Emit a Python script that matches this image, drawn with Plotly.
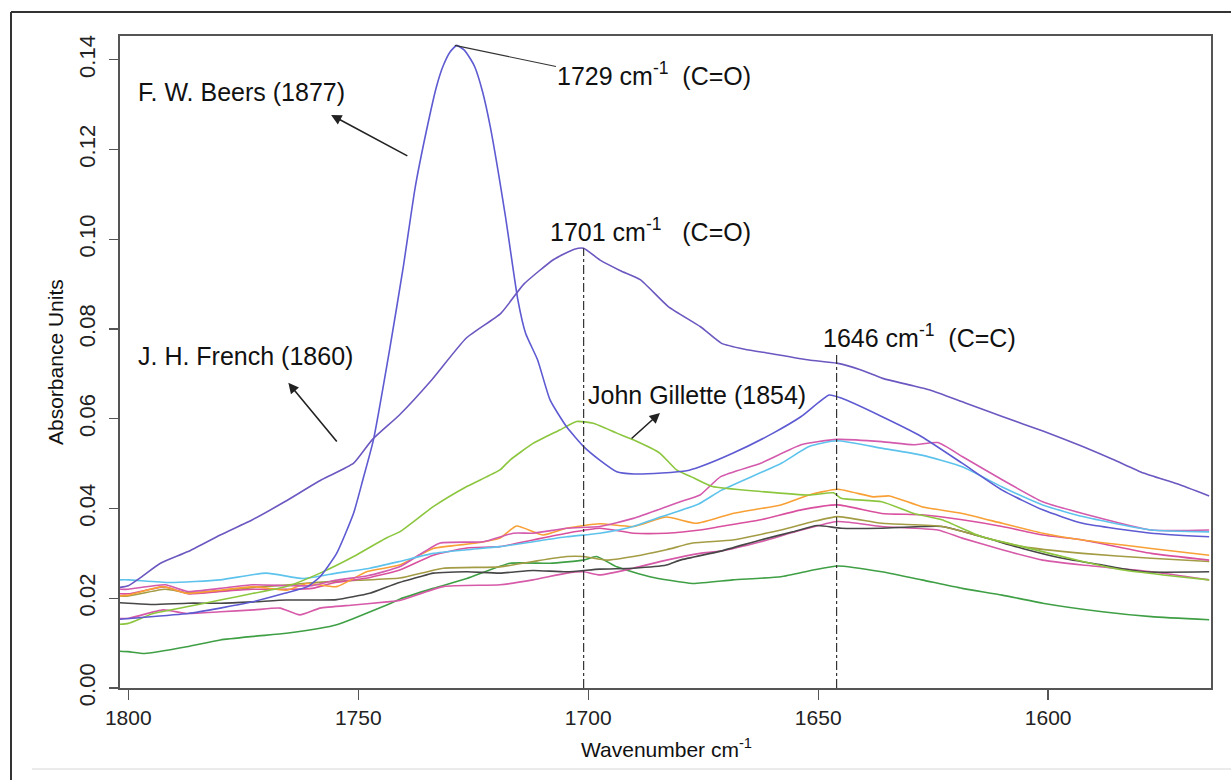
import plotly.graph_objects as go

# ---------------- data ----------------
wn_french = [1802, 1800, 1797.5, 1793, 1787, 1780, 1773, 1766, 1758, 1751, 1747, 1741, 1734, 1726.5, 1719,
             1714, 1707.5, 1703, 1701, 1697.5, 1693, 1688.7, 1682.6, 1675.6, 1671, 1666, 1660.7, 1652, 1646,
             1641, 1636, 1630, 1625.7, 1618, 1610, 1601, 1592.5, 1586, 1579.3, 1572, 1565]
abs_french = [0.0224, 0.0228, 0.0245, 0.0278, 0.0304, 0.0341, 0.0375, 0.0415, 0.0464, 0.0501, 0.0553, 0.0609,
              0.0687, 0.078, 0.0835, 0.090, 0.0955, 0.0978, 0.098, 0.0954, 0.093, 0.091, 0.085, 0.0805, 0.0768,
              0.0755, 0.0746, 0.0731, 0.0724, 0.071, 0.069, 0.0675, 0.0664, 0.0635, 0.0605, 0.0572, 0.0538,
              0.051, 0.0479, 0.0455, 0.0428]

wn_beers = [1802, 1800, 1787, 1780, 1773, 1766, 1761, 1758.3, 1754.7, 1751, 1749, 1746.7, 1743.2, 1740.2,
            1737.6, 1734.2, 1733, 1731.6, 1730, 1728.6, 1727, 1725.5, 1724.7, 1723, 1721.3, 1718, 1715.3,
            1713.6, 1711, 1708.3, 1704.7, 1701, 1697.5, 1693.8, 1690, 1684, 1678.6, 1675.7, 1668.6, 1659.8,
            1653.7, 1647.6, 1645, 1636.2, 1627.5, 1618.7, 1610, 1601.2, 1592.5, 1577.6, 1565]
abs_beers = [0.0153, 0.0155, 0.0166, 0.0178, 0.0192, 0.0211, 0.0226, 0.0248, 0.030, 0.039, 0.0464, 0.0553,
             0.0753, 0.0939, 0.1117, 0.1288, 0.134, 0.1385, 0.1418, 0.1432, 0.1422, 0.140, 0.1385, 0.133,
             0.1251, 0.1051, 0.0865, 0.079, 0.0731, 0.0642, 0.0582, 0.0538, 0.0508, 0.0482, 0.0477, 0.0479,
             0.0484, 0.0493, 0.0523, 0.0568, 0.0605, 0.0653, 0.0646, 0.0605, 0.056, 0.0501, 0.0441, 0.0397,
             0.0367, 0.0345, 0.0337]

wn_gillette = [1802, 1800, 1794.6, 1787.3, 1780, 1772.8, 1765.6, 1758.3, 1751, 1743.8, 1741, 1733.7, 1726.4,
               1719.2, 1717, 1712, 1706.2, 1702.5, 1698.9, 1693.8, 1690.2, 1684.4, 1680.8, 1677, 1673, 1662.5,
               1652, 1646.7, 1645, 1636.2, 1629.2, 1623.1, 1614.4, 1605.6, 1592.5, 1583.7, 1575, 1565]
abs_gillette = [0.0142, 0.0144, 0.0166, 0.0181, 0.0196, 0.0211, 0.0226, 0.0256, 0.0293, 0.0335, 0.0348, 0.0404,
                0.0449, 0.0486, 0.0508, 0.0545, 0.0575, 0.0594, 0.059, 0.0568, 0.0553, 0.0523, 0.0486, 0.0468,
                0.0449, 0.0438, 0.043, 0.0435, 0.0423, 0.0415, 0.0389, 0.0375, 0.0337, 0.0315, 0.0282, 0.0263,
                0.0252, 0.0241]

wn_cyan = [1802, 1800, 1791, 1780, 1770, 1762, 1754.7, 1747.5, 1741, 1733.7, 1726.4, 1719.2, 1712, 1704.7,
           1697.5, 1690.2, 1684, 1676, 1671, 1658, 1652, 1646, 1636, 1627.5, 1618.7, 1610, 1601.2, 1592.5,
           1577.6, 1565]
abs_cyan = [0.0241, 0.0241, 0.0235, 0.0241, 0.0256, 0.0244, 0.0256, 0.0267, 0.0282, 0.030, 0.0308, 0.0315,
            0.0326, 0.0337, 0.0345, 0.036, 0.0382, 0.041, 0.0441, 0.0501, 0.0538, 0.0551, 0.0534, 0.0519, 0.0493,
            0.0448, 0.0408, 0.0382, 0.0352, 0.0348]

wn_pink_a = [1802, 1800, 1792, 1787, 1780, 1773, 1765, 1760, 1755, 1748, 1741, 1737.3, 1732.2, 1722.8, 1716.3,
             1712, 1704.7, 1697.5, 1690.2, 1683, 1680, 1675.7, 1671.2, 1662.5, 1653.7, 1646, 1636.2, 1629.2,
             1624, 1618.7, 1610, 1601.2, 1592.5, 1577.6, 1565]
abs_pink_a = [0.022, 0.022, 0.023, 0.0215, 0.0222, 0.023, 0.0228, 0.0228, 0.024, 0.025, 0.027, 0.0293, 0.0323,
              0.0326, 0.0345, 0.0345, 0.0356, 0.036, 0.0378, 0.0404, 0.0415, 0.043, 0.0471, 0.0501, 0.0542,
              0.0554, 0.0549, 0.0542, 0.0547, 0.0516, 0.0464, 0.0415, 0.0389, 0.0352, 0.0352]

wn_orange = [1802, 1800, 1792.4, 1787.3, 1780, 1772.8, 1765.6, 1761.2, 1754.7, 1748.2, 1741, 1733.7, 1724.3,
             1719.2, 1715.6, 1709.8, 1704.7, 1697.5, 1690.2, 1683, 1676.4, 1668.6, 1658.1, 1652, 1645.8, 1638,
             1634.5, 1627.5, 1618.7, 1610, 1601.2, 1592.5, 1577.6, 1565]
abs_orange = [0.0205, 0.0207, 0.0226, 0.0211, 0.0218, 0.0226, 0.0218, 0.0233, 0.0226, 0.0259, 0.0274, 0.0311,
              0.0323, 0.0334, 0.0361, 0.0341, 0.0356, 0.0366, 0.036, 0.0381, 0.0367, 0.0389, 0.0408, 0.043,
              0.0443, 0.0426, 0.0428, 0.0404, 0.0389, 0.0367, 0.0345, 0.033, 0.0311, 0.0296]

wn_pink_b = [1802, 1800, 1792, 1787, 1780, 1773, 1765, 1760, 1755, 1748, 1741, 1733.7, 1726.4, 1719.2, 1712,
             1704.7, 1697.5, 1690.2, 1683, 1675.7, 1671.2, 1662.5, 1653.7, 1645.8, 1636.2, 1627.5, 1618.7, 1610,
             1601.2, 1592.5, 1577.6, 1565]
abs_pink_b = [0.021, 0.021, 0.0225, 0.021, 0.0215, 0.022, 0.022, 0.0222, 0.0235, 0.0245, 0.0263, 0.0296,
              0.0312, 0.0315, 0.033, 0.0345, 0.0356, 0.0345, 0.0345, 0.0352, 0.036, 0.0375, 0.0397, 0.0408,
              0.0389, 0.0386, 0.0375, 0.036, 0.0341, 0.033, 0.030, 0.0285]

wn_olive = [1802, 1800, 1792, 1787, 1780, 1772, 1765, 1758, 1750, 1741, 1731.5, 1719.2, 1712, 1704.7, 1701, 1696,
            1690.2, 1683, 1677.3, 1668.6, 1658.1, 1651.1, 1645.8, 1636.2, 1623.1, 1614.4, 1605.6, 1592.5,
            1577.6, 1565]
abs_olive = [0.0205, 0.0205, 0.022, 0.0212, 0.0216, 0.0225, 0.023, 0.0236, 0.024, 0.0245, 0.0267, 0.027,
             0.0282, 0.0293, 0.0293, 0.0285, 0.0293, 0.0308, 0.0323, 0.033, 0.0352, 0.0371, 0.0382, 0.0367,
             0.036, 0.0337, 0.0315, 0.030, 0.0289, 0.0282]

wn_black = [1802, 1800, 1794.6, 1787, 1780, 1772.8, 1765.6, 1758.3, 1754.7, 1747.5, 1741.7, 1736.6, 1733.7,
            1726.4, 1719.2, 1712, 1704.7, 1697.5, 1690.2, 1683, 1680, 1671.2, 1662.5, 1655.5, 1650.2, 1645,
            1636.2, 1623.1, 1614.4, 1605.6, 1596.9, 1588.2, 1579.3, 1565]
abs_black = [0.019, 0.0189, 0.0186, 0.0189, 0.0189, 0.0192, 0.0196, 0.0196, 0.0197, 0.0211, 0.0233, 0.0248,
             0.0256, 0.0259, 0.0256, 0.0262, 0.0259, 0.0265, 0.0267, 0.0274, 0.0285, 0.0305, 0.033, 0.0348,
             0.0362, 0.0356, 0.0356, 0.036, 0.0337, 0.0311, 0.0289, 0.0274, 0.0259, 0.0259]

wn_pink_c = [1802, 1800, 1792.4, 1787.3, 1780, 1772.8, 1767, 1762.7, 1758.3, 1751, 1743.8, 1741, 1731.5, 1719.2,
             1712, 1704.7, 1701, 1697.5, 1690.2, 1683, 1675.7, 1671.2, 1662.5, 1653.7, 1645.8, 1636.2, 1624,
             1618.7, 1610, 1601.2, 1592.5, 1577.6, 1565]
abs_pink_c = [0.0155, 0.0155, 0.0174, 0.0166, 0.017, 0.0174, 0.0178, 0.0163, 0.0178, 0.0185, 0.0192, 0.0195,
              0.0226, 0.023, 0.0241, 0.0256, 0.0259, 0.0252, 0.0267, 0.0285, 0.030, 0.0305, 0.0326, 0.0352,
              0.0371, 0.036, 0.0352, 0.0334, 0.0308, 0.0285, 0.0274, 0.0259, 0.0241]

wn_dkgreen = [1802, 1800, 1796.4, 1787.3, 1780, 1772.8, 1765.6, 1758.3, 1754.7, 1751, 1743.8, 1741, 1733.7,
              1726.4, 1717, 1708.3, 1701.1, 1698.2, 1693.8, 1686.6, 1677.3, 1668.6, 1658.1, 1651.1, 1645.8,
              1636.2, 1627.5, 1618.7, 1610, 1601.2, 1588.2, 1577.6, 1565]
abs_dkgreen = [0.0082, 0.0081, 0.0077, 0.0092, 0.0107, 0.0115, 0.0122, 0.0133, 0.0141, 0.0155, 0.0185, 0.0198,
               0.0222, 0.0244, 0.0278, 0.0278, 0.0285, 0.0293, 0.027, 0.0248, 0.0233, 0.0241, 0.0248, 0.0263,
               0.0272, 0.0259, 0.0241, 0.0222, 0.0207, 0.0189, 0.017, 0.0159, 0.0152]

x_ticks = [1800, 1750, 1700, 1650, 1600]
y_ticks = [0.00, 0.02, 0.04, 0.06, 0.08, 0.10, 0.12, 0.14]
y_tick_text = ["0.00", "0.02", "0.04", "0.06", "0.08", "0.10", "0.12", "0.14"]

peak_1729 = (1729, 0.1432)
peak_1701 = (1701, 0.098)
peak_1646 = (1646, 0.0742)

# ---------------- figure ----------------
W, H = 1231, 780
ML, MR, MT, MB = 120, 20, 36, 92
PW, PH = W - ML - MR, H - MT - MB


def px(x):
    return (x - ML) / PW


def py(y):
    return (H - MB - y) / PH


FONT = "Liberation Sans, Arial, sans-serif"

series = [
    (wn_dkgreen, abs_dkgreen, "#3f9f45"),
    (wn_pink_c, abs_pink_c, "#d65aa8"),
    (wn_black, abs_black, "#474747"),
    (wn_olive, abs_olive, "#a39c45"),
    (wn_pink_b, abs_pink_b, "#d9509f"),
    (wn_orange, abs_orange, "#f8a035"),
    (wn_pink_a, abs_pink_a, "#d35aac"),
    (wn_cyan, abs_cyan, "#5ec3ec"),
    (wn_gillette, abs_gillette, "#8cc63f"),
    (wn_beers, abs_beers, "#5d5ad2"),
    (wn_french, abs_french, "#6c58c0"),
]

fig = go.Figure()
for xs, ys, col in series:
    fig.add_trace(go.Scatter(x=xs, y=ys, mode="lines",
                             line=dict(color=col, width=1.6, shape="spline", smoothing=0.5),
                             showlegend=False, hoverinfo="skip"))

axis_common = dict(showline=True, linecolor="#555555", linewidth=1.6, mirror=True, showgrid=False,
                   zeroline=False, ticks="outside", tickcolor="#555555", tickwidth=1.4)

fig.update_xaxes(range=[1801.8, 1564.6], tickvals=x_ticks, ticklen=10,
                 tickfont=dict(family=FONT, size=21, color="#222222"), **axis_common)
fig.update_yaxes(range=[0, 0.1453], tickvals=y_ticks, ticktext=y_tick_text, ticklen=9,
                 tickangle=-90, ticklabelstandoff=6,
                 tickfont=dict(family=FONT, size=22, color="#222222"), **axis_common)

shapes = []
# vertical dash-dot marker lines
for (xw, yv) in (peak_1701, peak_1646):
    shapes.append(dict(type="line", xref="x", yref="y", x0=xw, x1=xw, y0=0, y1=yv,
                       line=dict(color="#333333", width=1.2, dash="dashdot")))
# leader line from 1729 peak to its label
shapes.append(dict(type="line", xref="x", yref="y", x0=peak_1729[0], y0=peak_1729[1],
                   x1=1707.0, y1=0.1385, line=dict(color="#333333", width=1.2)))
# outer frame (left and top)
shapes.append(dict(type="line", xref="paper", yref="paper", x0=px(11), x1=px(11), y0=py(12), y1=py(780),
                   line=dict(color="#333333", width=2)))
shapes.append(dict(type="line", xref="paper", yref="paper", x0=px(11), x1=px(1231), y0=py(12), y1=py(12),
                   line=dict(color="#333333", width=2)))
shapes.append(dict(type="line", xref="paper", yref="paper", x0=px(32), x1=px(1231), y0=py(769), y1=py(769),
                   line=dict(color="#e4e4e4", width=1.5)))

annotations = []


def label(text, x, y, size=25, anchor="left", angle=0):
    annotations.append(dict(text=text, xref="paper", yref="paper", x=px(x), y=py(y), showarrow=False,
                            xanchor=anchor, yanchor="middle", textangle=angle,
                            font=dict(family=FONT, size=size, color="#111111")))


label("F. W. Beers (1877)", 136, 92)
label("1729 cm<sup>-1</sup>&nbsp;&nbsp;(C=O)", 555, 74)
label("1701 cm<sup>-1</sup>&nbsp;&nbsp;&nbsp;(C=O)", 548, 230)
label("1646 cm<sup>-1</sup>&nbsp;&nbsp;(C=C)", 821, 336)
label("J. H. French (1860)", 136, 356)
label("John Gillette (1854)", 586, 395)
label("Absorbance Units", 55, 362, size=21, anchor="center", angle=-90)
label("Wavenumber cm<sup>-1</sup>", 666, 748, size=21, anchor="center")


def arrow(hx, hy, tx, ty):
    annotations.append(dict(text="", xref="x", yref="y", axref="x", ayref="y",
                            x=hx, y=hy, ax=tx, ay=ty, showarrow=True,
                            arrowhead=2, arrowsize=1.3, arrowwidth=1.6, arrowcolor="#222222"))


arrow(1755.9, 0.1277, 1739.0, 0.1184)   # F. W. Beers
arrow(1765.2, 0.0680, 1754.4, 0.0546)   # J. H. French
arrow(1684.4, 0.0613, 1690.9, 0.0553)   # John Gillette

fig.update_layout(width=W, height=H, margin=dict(l=ML, r=MR, t=MT, b=MB),
                  paper_bgcolor="white", plot_bgcolor="white",
                  shapes=shapes, annotations=annotations, showlegend=False,
                  font=dict(family=FONT))

fig.write_html("out.html", config={"displayModeBar": False, "staticPlot": True},
               post_script="document.body.style.margin='0px';document.body.style.overflow='hidden';")
